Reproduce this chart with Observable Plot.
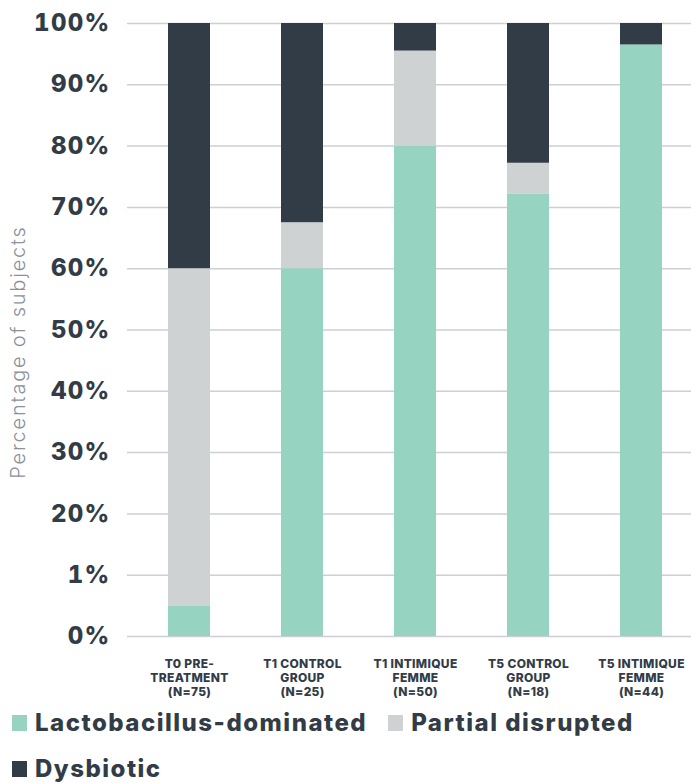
<!DOCTYPE html>
<html><head><meta charset="utf-8">
<script src="https://cdn.jsdelivr.net/npm/d3@7"></script>
<script src="https://cdn.jsdelivr.net/npm/@observablehq/plot@0.6"></script>
<style>
body{margin:0;background:#fff;font-family:Inter,"DejaVu Sans",sans-serif;}
#chart svg{display:block;}
g[aria-label="y-axis label"] text{fill:#8b9199;font-weight:300;font-size:20px;letter-spacing:1.8px;}
g[aria-label="y-axis tick label"] text{letter-spacing:1.3px;}
g[aria-label="x-axis tick label"] text{letter-spacing:0.3px;}
.legend{color:#323c47;font-weight:800;font-size:24px;line-height:46px;padding-left:12px;margin-top:0;letter-spacing:1.5px;}
.legend span.item{display:inline-block;margin-right:21px;white-space:nowrap;}
.legend span.sw{display:inline-block;width:15px;height:16px;margin-right:8px;vertical-align:0;}
</style></head>
<body>
<div id="chart"></div>
<div class="legend" id="legend"></div>
<script>
const groups = ["T0 PRE-\nTREATMENT\n(N=75)", "T1 CONTROL\nGROUP\n(N=25)", "T1 INTIMIQUE\nFEMME\n(N=50)", "T5 CONTROL\nGROUP\n(N=18)", "T5 INTIMIQUE\nFEMME\n(N=44)"];
const categories = ["Lactobacillus-dominated", "Partial disrupted", "Dysbiotic"];
const colors = ["#96d3c0", "#cfd2d3", "#323c47"];
const lactobacillus = [5, 60, 80, 72.2, 96.5];
const partial = [55, 7.5, 15.5, 5, 0];
const dysbiotic = [40, 32.5, 4.5, 22.8, 3.5];
const yTicks = [0, 10, 20, 30, 40, 50, 60, 70, 80, 90, 100];
const yTickLabels = ["0%", "1%", "20%", "30%", "40%", "50%", "60%", "70%", "80%", "90%", "100%"];

const series = [lactobacillus, partial, dysbiotic];
const rows = [];
groups.forEach((g, i) => categories.forEach((c, j) => rows.push({group: g, category: c, value: series[j][i]})));

const chart = Plot.plot({
  width: 691, height: 700,
  marginLeft: 127, marginRight: 0, marginTop: 23, marginBottom: 64,
  style: {fontFamily: "Inter, 'DejaVu Sans', sans-serif", color: "#323c47", background: "#fff"},
  x: {domain: groups, range: [132, 698], paddingInner: 0.63, paddingOuter: 0.3},
  y: {domain: [0, 100]},
  color: {domain: categories, range: colors},
  marks: [
    Plot.gridY(yTicks, {stroke: "#cdd0d3", strokeOpacity: 1, strokeWidth: 1.5}),
    Plot.barY(rows, Plot.stackY({order: categories, x: "group", y: "value", fill: "category"})),
    Plot.axisY(yTicks, {tickSize: 0, tickPadding: 17, tickFormat: (d) => yTickLabels[yTicks.indexOf(d)], fontSize: 24, fontWeight: 800, fill: "#323c47", label: "Percentage of subjects", labelArrow: false, labelAnchor: "center", labelOffset: 117}),
    Plot.axisX({tickSize: 0, tickPadding: 22, fontSize: 12, fontWeight: 800, fill: "#323c47", lineHeight: 1.15, label: null, textAnchor: "middle"})
  ]
});
document.getElementById("chart").appendChild(chart);
chart.querySelectorAll('g[aria-label="y-axis label"] text').forEach(t => {
  t.textContent = t.textContent.replace(/\s*[↑→]\s*/g, "");
  t.setAttribute("dx", "-22");
});

const legend = document.getElementById("legend");
categories.forEach((c, j) => {
  const s = document.createElement("span");
  s.className = "item";
  s.innerHTML = `<span class="sw" style="background:${colors[j]}"></span>${c}`;
  legend.appendChild(s);
});
</script>
</body></html>
